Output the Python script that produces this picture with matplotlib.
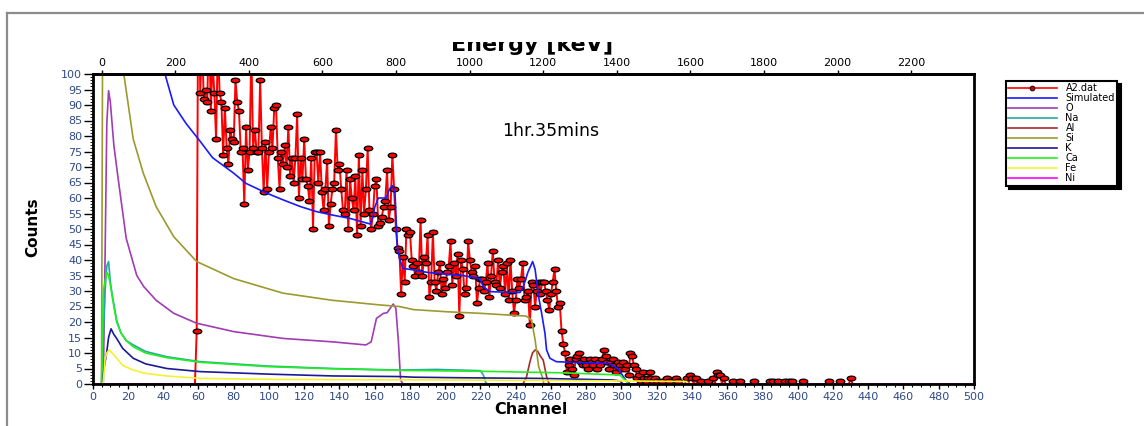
import numpy as np
import matplotlib
matplotlib.use("Agg")
import matplotlib.pyplot as plt
from matplotlib.lines import Line2D
from matplotlib.patches import Rectangle
from matplotlib.path import Path
from matplotlib.transforms import Affine2D
from matplotlib.ticker import MultipleLocator

# ---------------------------------------------------------------------------
# Measured spectrum A2.dat (counts per channel)
# ---------------------------------------------------------------------------
a2_rise = [17, 150]  # channels 59-60
a2_high = [  # channels 61-172
    94, 112, 92, 95, 91, 118, 88, 104, 94, 79,
    110, 94, 91, 74, 89, 76, 71, 82, 79, 78,
    98, 91, 88, 75, 76, 58, 83, 69, 75, 108,
    76, 82, 75, 75, 98, 76, 62, 78, 63, 75,
    83, 76, 89, 90, 73, 63, 75, 71, 77, 70,
    83, 67, 73, 65, 73, 87, 60, 73, 66, 79,
    66, 64, 59, 73, 50, 75, 75, 65, 75, 62,
    56, 63, 72, 51, 58, 63, 65, 82, 69, 71,
    63, 56, 55, 69, 50, 66, 60, 56, 67, 48,
    74, 51, 69, 55, 63, 76, 56, 50, 55, 64,
    66, 51, 52, 54, 57, 59, 69, 53, 57, 74,
    63, 50,
]
a2_mid = [  # channels 173-265
    44, 43, 29, 41, 33, 50, 48, 49, 40, 38,
    35, 39, 36, 53, 35, 41, 39, 48, 28, 33,
    49, 33, 30, 36, 39, 29, 34, 31, 36, 38,
    46, 32, 39, 35, 42, 22, 40, 37, 29, 31,
    46, 40, 36, 35, 38, 26, 31, 34, 34, 30,
    33, 39, 28, 35, 43, 33, 32, 40, 31, 36,
    38, 29, 39, 27, 40, 30, 23, 27, 34, 31,
    34, 39, 27, 28, 30, 19, 33, 32, 25, 30,
    33, 29, 33, 33, 30, 27, 24, 29, 33, 37,
    30, 25, 26,
]
a2_low = [  # channels 266-320
    17, 13, 10, 4, 6, 8, 5, 3, 8, 9,
    10, 7, 6, 8, 6, 5, 8, 7, 6, 8,
    5, 7, 6, 8, 11, 9, 7, 5, 7, 8,
    6, 4, 7, 6, 5, 7, 5, 6, 3, 10,
    9, 6, 5, 2, 3, 1, 4, 2, 1, 2,
    4, 2, 1, 2, 1,
]
a2_tail = [  # channels 321-435
    0, 0, 1, 0, 0, 2, 1, 0, 0, 0,
    2, 1, 0, 0, 0, 0, 2, 0, 3, 2,
    0, 2, 0, 0, 1, 0, 0, 0, 1, 0,
    0, 2, 0, 4, 3, 3, 0, 2, 0, 0,
    0, 0, 1, 0, 0, 0, 1, 0, 0, 0,
    0, 0, 0, 0, 1, 0, 0, 0, 0, 0,
    0, 0, 0, 1, 0, 1, 0, 0, 1, 0,
    0, 0, 1, 0, 1, 0, 1, 0, 0, 0,
    0, 0, 1, 0, 0, 0, 0, 0, 0, 0,
    0, 0, 0, 0, 0, 0, 0, 1, 0, 0,
    0, 0, 0, 1, 0, 0, 0, 0, 0, 2,
    0, 0, 0, 0, 0,
]

# ---------------------------------------------------------------------------
# Simulated spectrum and elemental contributions (channel, counts)
# ---------------------------------------------------------------------------
sim_ch = [30, 36, 41, 46, 53, 60, 68, 80, 87, 99, 108, 118, 127, 136, 146,
          155, 157.5, 159, 160, 162, 166.5, 168.5, 170, 171.5, 172.8, 174.3,
          176, 182, 190, 201, 210, 219.7, 221.6, 225.4, 235, 242.4, 244.3,
          247, 249.6, 251, 252.8, 254.7, 256.6, 257.5, 259.4, 263, 276, 293,
          298, 301, 303, 305]
sim_counts = [125, 110, 100, 90, 84, 79, 73, 68, 64.7, 61.5, 59.4, 57.2, 55.6,
              54.5, 53.4, 52, 51.6, 54, 57, 60, 60, 63, 64, 62, 44, 40,
              37.3, 36.8, 36, 35.4, 35, 34, 31.4, 29.8, 29.6, 29.5, 31.4,
              36.2, 39.5, 37, 28.7, 22.8, 16.3, 11, 8.3, 7.2, 6.9, 6.6,
              5, 2.4, 0.8, 0]

o_ch = [6, 7, 8, 9, 10, 11, 12, 14.5, 19, 25, 29, 36, 46, 59, 80, 108, 136,
        155, 158, 161, 165, 167, 170.5, 172, 173.4, 174.7, 176]
o_counts = [0, 40, 84, 94.6, 91, 84, 77, 66, 47, 35, 31.4, 27, 22.8, 19.6,
            16.9, 14.7, 13.6, 12.6, 13.6, 21.2, 22.8, 23, 25.8, 24.4, 14,
            1.3, 0]

na_ch = [5, 6, 7, 8, 9, 10, 11, 13.6, 16, 19, 23, 30, 42, 61, 99, 136, 174,
         195, 220, 221.6, 223, 224]
na_counts = [0, 15, 30, 38, 39.5, 33, 29, 20.6, 16.5, 14, 12.6, 10.5, 8.8,
             7.2, 5.8, 5, 4.5, 4.7, 4.3, 2.9, 0.5, 0]

al_ch = [244, 246, 248, 249.5, 251, 252.5, 254, 255.6, 257.5, 259]
al_counts = [0, 2, 7, 10, 11, 10.5, 9, 7.7, 2.4, 0]

si_ch = [5, 6, 8, 10, 14, 17.8, 23, 28.7, 36, 46, 59, 80, 99, 108, 136, 163,
         174, 182, 201, 220, 246, 249, 251, 253, 255, 256]
si_counts = [0, 180, 170, 155, 122, 99.4, 79, 68, 57.2, 47.5, 39.5, 34, 30.8,
             29.3, 27, 25.5, 25, 24, 23.3, 22.8, 21.9, 20.6, 14.2, 5.6, 2.4, 0]

k_ch = [5, 6.6, 8, 9, 10.4, 12, 13.6, 17, 23, 30, 42, 61, 99, 136, 174, 182,
        211, 254, 280, 295, 299, 301]
k_counts = [0, 5.6, 10.4, 15, 17.8, 16, 14.7, 11.5, 8.3, 6.5, 5, 4, 3.2, 2.6,
            2.4, 2.2, 2, 1.8, 1.5, 1.3, 1, 0]

ca_ch = [5, 6, 7, 8, 9, 10, 12, 13.6, 16, 19, 23, 30, 42, 61, 99, 136, 174,
         220, 267, 299, 301, 303, 304]
ca_counts = [0, 30, 33, 36, 35, 32, 25, 20, 16.5, 14, 12, 10, 8.5, 7, 5.6, 4.9,
             4.4, 4.1, 3.6, 2.9, 1.8, 0.8, 0]

fe_ch = [5, 6, 7, 8, 9.4, 11, 13.6, 17, 23, 30, 42, 61, 100, 200, 300, 337, 338]
fe_counts = [0, 0.5, 8, 10, 11, 10, 8.3, 6, 4.5, 3.4, 2.6, 1.8, 1.5, 1.3, 1.0,
             0.8, 0]

ni_ch = [0, 500]
ni_counts = [0, 0]

# energy calibration of the top axis
KEV_PER_CH = 4.79
CH_OFFSET = 5.1


def ch_to_kev(c):
    return KEV_PER_CH * (np.asarray(c) - CH_OFFSET)


def kev_to_ch(e):
    return np.asarray(e) / KEV_PER_CH + CH_OFFSET


W, H = 1144, 426
fig = plt.figure(figsize=(W / 100, H / 100), dpi=100)
ax = fig.add_axes([92.7 / W, 1 - 384 / H, (974 - 92.7) / W, (384 - 74) / H])

counts = np.array([0] * 59 + a2_rise + a2_high + a2_mid + a2_low + a2_tail, dtype=float)
channels = np.arange(len(counts))
nz = counts > 0

# ellipse-shaped marker for the measured points
ellipse = Path.unit_circle().transformed(Affine2D().scale(1.0, 0.55))

ax.plot(channels, counts, color="#ff0000", lw=1.4, zorder=2)
ax.plot(channels[nz], counts[nz], ls="none", marker=ellipse, ms=6.2,
        mfc="#ff0000", mec="black", mew=0.9, zorder=2.2)

elements = [
    ("Simulated", sim_ch, sim_counts, "#1a1aff"),
    ("O", o_ch, o_counts, "#a03cb4"),
    ("Na", na_ch, na_counts, "#2aa5a5"),
    ("Al", al_ch, al_counts, "#a52a2a"),
    ("Si", si_ch, si_counts, "#9c9a2c"),
    ("K", k_ch, k_counts, "#1a1a96"),
    ("Ca", ca_ch, ca_counts, "#22ee22"),
    ("Fe", fe_ch, fe_counts, "#f2f230"),
    ("Ni", ni_ch, ni_counts, "#ff00ff"),
]
for name, xs, ys, color in elements:
    ax.plot(xs, ys, color=color, lw=1.2, zorder=2.5)

ax.set_xlim(0, 500)
ax.set_ylim(0, 100)
ax.set_xticks(range(0, 501, 20))
ax.set_yticks(range(0, 101, 5))
ax.xaxis.set_minor_locator(MultipleLocator(5))
ax.yaxis.set_minor_locator(MultipleLocator(1))

tick_color = "#2e4a86"
ax.tick_params(axis="x", which="major", direction="out", length=3.5, width=1,
               labelsize=8, labelcolor=tick_color, pad=2)
ax.tick_params(axis="x", which="minor", direction="out", length=2, width=0.8)
ax.tick_params(axis="y", which="major", direction="out", length=6.5, width=1,
               labelsize=8, labelcolor=tick_color, pad=1)
ax.tick_params(axis="y", which="minor", direction="out", length=2.5, width=0.6)
for side in ("left", "bottom", "top", "right"):
    ax.spines[side].set_linewidth(2)

top = ax.secondary_xaxis("top", functions=(ch_to_kev, kev_to_ch))
top.set_xticks(range(0, 2201, 200))
top.tick_params(direction="out", length=3, width=1, labelsize=8,
                labelcolor="black", pad=1)
top.spines["top"].set_linewidth(2)

# axis titles
fig.text(33 / W, 1 - 227 / H, "Counts", rotation=90, ha="center", va="center",
         fontsize=11, fontweight="bold")
fig.text(531 / W, 1 - 410 / H, "Channel", ha="center", va="center",
         fontsize=11.5, fontweight="bold")
fig.text(532 / W, 1 - 51 / H, "Energy [keV]", ha="center", va="baseline",
         fontsize=16, fontweight="bold", zorder=3)
# the upper half of the energy title sits under a white strip
fig.add_artist(Rectangle((410 / W, 1 - 42 / H), 250 / W, 26 / H,
                         transform=fig.transFigure, facecolor="white",
                         edgecolor="none", zorder=4))

fig.text(551 / W, 1 - 131 / H, "1hr.35mins", ha="center", va="center",
         fontsize=12.5)

# legend
handles = [Line2D([], [], color="#ff0000", lw=1.2, marker="o", ms=3.5,
                  mfc="#cc0000", mec="black", mew=0.6)]
labels = ["A2.dat"]
for name, xs, ys, color in elements:
    handles.append(Line2D([], [], color=color, lw=1.2))
    labels.append(name)
leg = ax.legend(handles, labels, loc="upper left",
                bbox_to_anchor=(1005.7 / W, 1 - 81 / H),
                bbox_transform=fig.transFigure, fontsize=7, handlelength=5.0,
                handletextpad=0.9, labelspacing=0.0, borderpad=0.25,
                borderaxespad=0, fancybox=False, framealpha=1,
                edgecolor="black",
                shadow={"ox": 2.5, "oy": -2.5, "color": "black", "alpha": 1})
leg.get_frame().set_linewidth(1.5)

# grey page frame
frame_kw = dict(transform=fig.transFigure, color="#8c8c8c", lw=1.6)
fig.add_artist(Line2D([7 / W, 7 / W], [0, 1 - 13 / H], **frame_kw))
fig.add_artist(Line2D([7 / W, 1], [1 - 13 / H, 1 - 13 / H], **frame_kw))

fig.savefig("out.png", dpi=100)
